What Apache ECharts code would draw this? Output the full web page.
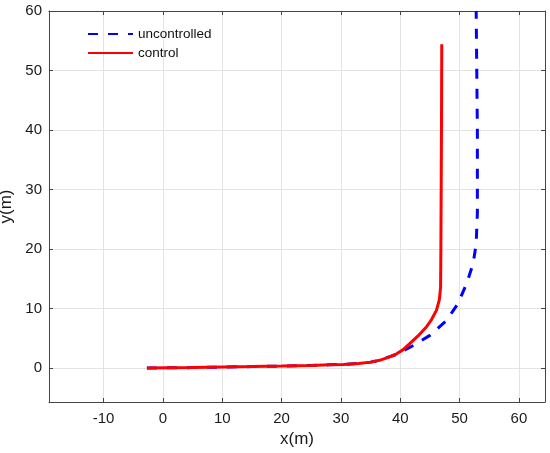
<!DOCTYPE html>
<html>
<head>
<meta charset="utf-8">
<script src="https://cdn.jsdelivr.net/npm/echarts@6/dist/echarts.min.js"></script>
<style>
  html, body { margin: 0; padding: 0; background: #fff; }
  #chart { width: 550px; height: 453px; }
</style>
</head>
<body>
<div id="chart"></div>
<script>
// trajectory (x in m, y in m)
const controlX = [-2.7, 5, 10, 15, 20, 25, 28, 30.4, 33, 35, 36.5, 38, 39.4, 40.5, 41.6, 43, 44.4, 45.3, 46.1, 46.6, 46.8, 46.85, 46.9, 46.95, 47.0]
const controlY = [0, 0.08, 0.17, 0.25, 0.34, 0.45, 0.55, 0.62, 0.78, 1.0, 1.3, 1.8, 2.4, 3.1, 4.1, 5.4, 6.9, 8.2, 9.7, 11.5, 13.6, 20, 30, 40, 54.4]
const uncontrolledX = [-2.7, 5, 10, 15, 20, 25, 28, 30.4, 33, 35, 36.5, 38, 39.4, 42.2, 45.0, 47.8, 49.7, 51.2, 52.3, 52.8, 53.0, 53.0, 52.9, 52.8]
const uncontrolledY = [0, 0.08, 0.17, 0.25, 0.34, 0.45, 0.55, 0.62, 0.78, 1.0, 1.3, 1.85, 2.3, 3.8, 5.5, 8.0, 10.8, 14.2, 17.6, 20.9, 26, 40, 50, 60]

const xRange = [-19.2, 64.4]
const yRange = [-5.7, 60]

const pairs = (xs, ys) => xs.map((x, i) => [x, ys[i]])

const font = 'Liberation Sans, Arial, sans-serif'
const axisColor = '#444'
const gridColor = '#e3e3e3'

const chart = echarts.init(document.getElementById('chart'))

const boxAxis = (extra) => Object.assign({
  type: 'value',
  axisLine: { show: true, onZero: false, lineStyle: { color: axisColor, width: 1 } },
  axisTick: { show: true, inside: true, length: 4, lineStyle: { color: axisColor } },
  splitLine: { show: false },
  axisLabel: { show: false }
}, extra)

chart.setOption({
  animation: false,
  textStyle: { fontFamily: font },
  grid: { left: 49, right: 5, top: 11, bottom: 51, containLabel: false, outerBoundsMode: 'none' },
  legend: {
    orient: 'vertical',
    left: 87, top: 27, padding: 0,
    itemWidth: 45, itemHeight: 14, itemGap: 5,
    itemStyle: { opacity: 0 },
    textStyle: { fontSize: 13.5, color: '#111', fontFamily: font },
    data: ['uncontrolled', 'control']
  },
  xAxis: [
    boxAxis({
      position: 'bottom', min: xRange[0], max: xRange[1], splitNumber: 8,
      splitLine: { show: true, lineStyle: { color: gridColor, width: 1 } },
      axisLabel: { show: true, fontSize: 15, color: '#1a1a1a', margin: 9, showMinLabel: false, showMaxLabel: false },
      name: 'x(m)', nameLocation: 'middle', nameGap: 28.5,
      nameTextStyle: { fontSize: 17, color: '#1a1a1a' }
    }),
    boxAxis({ position: 'top', min: xRange[0], max: xRange[1], splitNumber: 8 })
  ],
  yAxis: [
    boxAxis({
      position: 'left', min: yRange[0], max: yRange[1], splitNumber: 7,
      splitLine: { show: true, lineStyle: { color: gridColor, width: 1 } },
      axisLabel: { show: true, fontSize: 15, color: '#1a1a1a', margin: 7, showMinLabel: false, showMaxLabel: true },
      name: 'y(m)', nameLocation: 'middle', nameGap: 29,
      nameTextStyle: { fontSize: 17, color: '#1a1a1a' }
    }),
    boxAxis({ position: 'right', min: yRange[0], max: yRange[1], splitNumber: 7 })
  ],
  series: [
    {
      name: 'uncontrolled', type: 'line', showSymbol: false, symbol: 'none',
      clip: true, z: 2,
      lineStyle: { color: '#0000ff', width: 3, type: [10, 10] },
      itemStyle: { color: '#0000ff' },
      data: pairs(uncontrolledX, uncontrolledY)
    },
    {
      name: 'control', type: 'line', showSymbol: false, symbol: 'none',
      clip: true, z: 3,
      lineStyle: { color: '#ff0000', width: 3 },
      itemStyle: { color: '#ff0000' },
      data: pairs(controlX, controlY)
    }
  ]
})
</script>
</body>
</html>
